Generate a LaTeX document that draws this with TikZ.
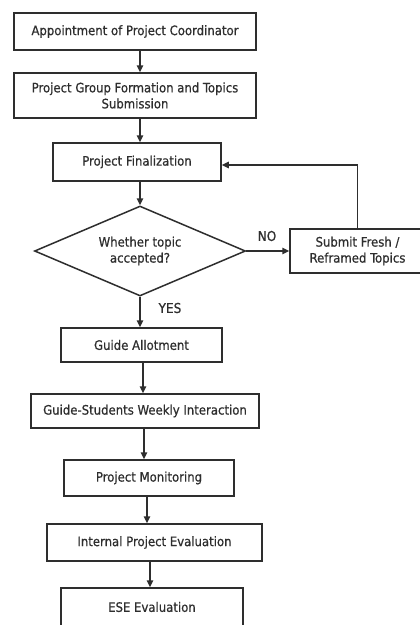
\documentclass[tikz,border=0pt]{standalone}
\usepackage{fontspec}
\setmainfont{DejaVu Sans Condensed}[BoldFont={DejaVu Sans Condensed},BoldFeatures={FakeBold=0.6}]
\usetikzlibrary{arrows.meta,shapes.geometric}
\definecolor{ink}{HTML}{2E2E2E}
\begin{document}
\begin{tikzpicture}[x=1pt,y=-1pt,
  every node/.style={font=\fontsize{13}{16}\selectfont\bfseries, text=ink},
  stepbox/.style={draw=ink, line width=1.5pt, rectangle, inner sep=0pt, align=center},
  decision/.style={draw=ink, line width=1.5pt, diamond, aspect=2.34, inner sep=0pt, align=center},
  flow/.style={draw=ink, line width=1.5pt, -{Triangle[length=7pt,width=6.5pt]}},
  tag/.style={font=\fontsize{13.5}{16}\selectfont\bfseries}]
\useasboundingbox (0,0) rectangle (420,625);
\clip (0,0) rectangle (420,625);
\fill[white] (0,0) rectangle (420,625);

% process steps
\node[stepbox, minimum width=242pt, minimum height=37pt] (coord) at (135,31.5) {Appointment of Project Coordinator};
\node[stepbox, minimum width=242pt, minimum height=45pt] (group) at (135,95.5) {Project Group Formation and Topics\\Submission};
\node[stepbox, minimum width=168pt, minimum height=38pt] (final) at (137,162) {Project Finalization};
\node[decision, minimum width=211pt, minimum height=90pt] (accept) at (140,251) {Whether topic\\accepted?};
\node[stepbox, minimum width=135pt, minimum height=44pt] (fresh) at (357.5,251) {Submit Fresh /\\Reframed Topics};
\node[stepbox, minimum width=161pt, minimum height=34pt] (guide) at (141.5,345) {Guide Allotment};
\node[stepbox, minimum width=228pt, minimum height=34pt] (weekly) at (145,411) {Guide-Students Weekly Interaction};
\node[stepbox, minimum width=170pt, minimum height=36pt] (monitor) at (149,478) {Project Monitoring};
\node[stepbox, minimum width=215pt, minimum height=37pt] (internal) at (154.5,542.5) {Internal Project Evaluation};
\node[stepbox, minimum width=182pt, minimum height=38pt] (ese) at (152,607) {ESE Evaluation};

% connectors
\draw[flow] (coord.south -| 140,0) -- (group.north -| 140,0);
\draw[flow] (group.south -| 140,0) -- (final.north -| 140,0);
\draw[flow] (final.south -| accept.north) -- (accept.north);
\draw[flow] (accept.south) -- (accept.south |- guide.north);
\draw[flow] (guide.south -| 143,0) -- (weekly.north -| 143,0);
\draw[flow] (weekly.south -| 144,0) -- (monitor.north -| 144,0);
\draw[flow] (monitor.south -| 147,0) -- (internal.north -| 147,0);
\draw[flow] (internal.south -| 150,0) -- (ese.north -| 150,0);
\draw[flow] (accept.east) -- (fresh.west);
\draw[flow] (fresh.north) |- ([yshift=-3pt]final.east);

% branch labels
\node[tag] (no) at (267,236) {NO};
\node[tag] (yes) at (170,308) {YES};
\end{tikzpicture}
\end{document}
